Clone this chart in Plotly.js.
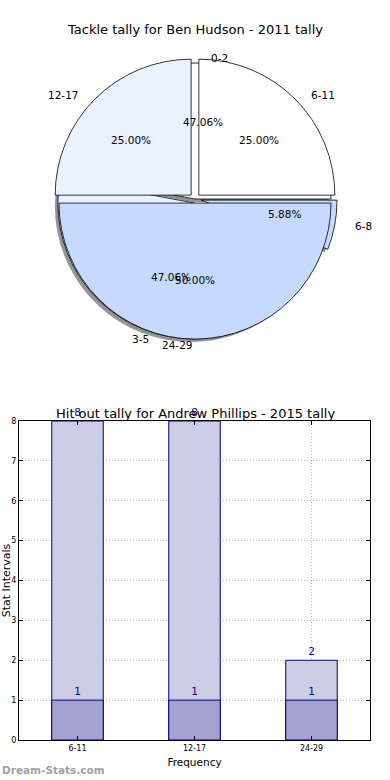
<!DOCTYPE html>
<html>
<head>
<meta charset="utf-8">
<script src="https://cdn.plot.ly/plotly-3.0.1.min.js"></script>
<style>html,body{margin:0;padding:0;background:#fff;}#chart{width:390px;height:780px;}</style>
</head>
<body>
<div id="chart"></div>
<script>
// ---------- data ----------
const pieTitle = "Tackle tally for Ben Hudson - 2011 tally";
const pie1Labels = ["0-2", "3-5", "6-8"];
const pie1Values = [8, 8, 1];
const pie1Pull = [0.0, 0.03, 0.045];
const pie2Labels = ["6-11", "12-17", "24-29"];
const pie2Values = [1, 1, 2];
const pie2Pull = [0.04, 0.04, 0.03];
const pieColors = ["#ffffff", "#eaf1ff", "#c6d9ff"];

const barTitle = "Hit out tally for Andrew Phillips - 2015 tally";
const barCategories = ["6-11", "12-17", "24-29"];
const barBack = [8, 8, 2];
const barFront = [1, 1, 1];
const yTicks = [0, 1, 2, 3, 4, 5, 6, 7, 8];

// ---------- layout geometry ----------
const W = 390, H = 780;
const FONT = "DejaVu Sans, Verdana, sans-serif";
const pieCx = 195, pieCy = 199, pieR = 136;
const textRx = 141, textRy = 129;

function pieDomain(pulls, dx, dy) {
  const half = pieR * (1 + Math.max(...pulls));
  return {
    x: [(pieCx + dx - half) / W, (pieCx + dx + half) / W],
    y: [1 - (pieCy + dy + half) / H, 1 - (pieCy + dy - half) / H]
  };
}

// first slice starts at 3 o'clock and runs counterclockwise
function startRotation(values) {
  const total = values.reduce((a, b) => a + b, 0);
  return 90 - 360 * values[0] / total;
}

function pieTrace(labels, values, pulls, colors, dom, lineColor) {
  return {
    type: "pie", labels: labels, values: values, pull: pulls,
    sort: false, direction: "counterclockwise", rotation: startRotation(values),
    textinfo: "none", hoverinfo: "label+percent",
    marker: { colors: colors, line: { color: lineColor, width: 0.8 } },
    domain: dom, showlegend: false
  };
}

const traces = [];
// shadow of first pie
traces.push(pieTrace(pie1Labels, pie1Values, pie1Pull,
  pie1Values.map(() => "rgba(60,60,60,0.55)"), pieDomain(pie1Pull, -3, 3), "rgba(0,0,0,0)"));
traces.push(pieTrace(pie1Labels, pie1Values, pie1Pull, pieColors, pieDomain(pie1Pull, 0, 0), "#000"));
traces.push(pieTrace(pie2Labels, pie2Values, pie2Pull, pieColors, pieDomain(pie2Pull, 0, 0), "#000"));

// bars
traces.push({
  type: "bar", x: barCategories, y: barBack, width: 0.44,
  marker: { color: "#ccccE6", line: { color: "#000080", width: 1 } },
  text: barBack.map(String), textposition: "outside", cliponaxis: false,
  textfont: { color: "#000080", size: 10.5, family: FONT },
  xaxis: "x", yaxis: "y", showlegend: false, hoverinfo: "x+y"
});
traces.push({
  type: "bar", x: barCategories, y: barFront, width: 0.44,
  marker: { color: "#a3a3d1", line: { color: "#000080", width: 1 } },
  text: barFront.map(String), textposition: "outside", cliponaxis: false,
  textfont: { color: "#000080", size: 10.5, family: FONT },
  xaxis: "x", yaxis: "y", showlegend: false, hoverinfo: "x+y"
});

// pie text annotations (matplotlib-like placement)
const annotations = [];
function pieTexts(labels, values, pulls) {
  const total = values.reduce((a, b) => a + b, 0);
  let start = 0;
  values.forEach((v, i) => {
    const frac = v / total;
    const mid = (start + frac * 180) * Math.PI / 180;
    start += frac * 360;
    const c = Math.cos(mid), s = Math.sin(mid);
    const ox = pulls[i] * pieR * c, oy = pulls[i] * pieR * s;
    const lx = pieCx + ox + 1.1 * textRx * c, ly = pieCy - (oy + 1.1 * textRy * s);
    const px = pieCx + ox + 0.6 * textRx * c, py = pieCy - (oy + 0.6 * textRy * s);
    annotations.push({ xref: "paper", yref: "paper", x: lx / W, y: 1 - ly / H,
      text: labels[i], showarrow: false, xanchor: c > 0 ? "left" : "right", yanchor: "middle",
      font: { family: FONT, size: 10.5, color: "#000" } });
    annotations.push({ xref: "paper", yref: "paper", x: px / W, y: 1 - py / H,
      text: (frac * 100).toFixed(2) + "%", showarrow: false, xanchor: "center", yanchor: "middle",
      font: { family: FONT, size: 10.5, color: "#000" } });
  });
}
pieTexts(pie1Labels, pie1Values, pie1Pull);
pieTexts(pie2Labels, pie2Values, pie2Pull);

annotations.push({ xref: "paper", yref: "paper", x: 195 / W, y: 1 - 30 / H, text: pieTitle,
  showarrow: false, xanchor: "center", yanchor: "middle", font: { family: FONT, size: 13, color: "#000" } });
annotations.push({ xref: "paper", yref: "paper", x: 195 / W, y: 1 - 413 / H, text: barTitle,
  showarrow: false, xanchor: "center", yanchor: "middle", font: { family: FONT, size: 13, color: "#000" } });
annotations.push({ xref: "paper", yref: "paper", x: 0, y: 1 - 770 / H, text: "<b>Dream-Stats.com</b>",
  showarrow: false, xanchor: "left", yanchor: "middle", font: { family: FONT, size: 10.5, color: "#a0a0a0" } });

const layout = {
  width: W, height: H,
  margin: { l: 0, r: 0, t: 0, b: 0 },
  paper_bgcolor: "#fff", plot_bgcolor: "#fff",
  font: { family: FONT, color: "#000" },
  showlegend: false,
  barmode: "overlay",
  xaxis: {
    domain: [19 / W, 370 / W], anchor: "y", type: "category", range: [-0.5, 2.5],
    showline: true, linecolor: "#000", linewidth: 1, mirror: "ticks",
    ticks: "inside", ticklen: 4, tickcolor: "#000",
    showgrid: true, gridcolor: "#b8b8b8", griddash: "1px,2px", gridwidth: 1,
    tickfont: { size: 8, family: FONT, color: "#000" },
    title: { text: "Frequency", font: { size: 10.5, family: FONT, color: "#000" }, standoff: 7 },
    automargin: false, fixedrange: true
  },
  yaxis: {
    domain: [40 / H, 359 / H], anchor: "x", range: [0, 8], tickvals: yTicks,
    showline: true, linecolor: "#000", linewidth: 1, mirror: "ticks",
    ticks: "inside", ticklen: 4, tickcolor: "#000", zeroline: false,
    showgrid: true, gridcolor: "#b8b8b8", griddash: "1px,2px", gridwidth: 1,
    tickfont: { size: 8, family: FONT, color: "#000" },
    title: { text: "Stat Intervals", font: { size: 11, family: FONT, color: "#000" }, standoff: 0 },
    automargin: false, fixedrange: true
  },
  annotations: annotations
};

Plotly.newPlot("chart", traces, layout, { displayModeBar: false, staticPlot: true });
</script>
</body>
</html>
